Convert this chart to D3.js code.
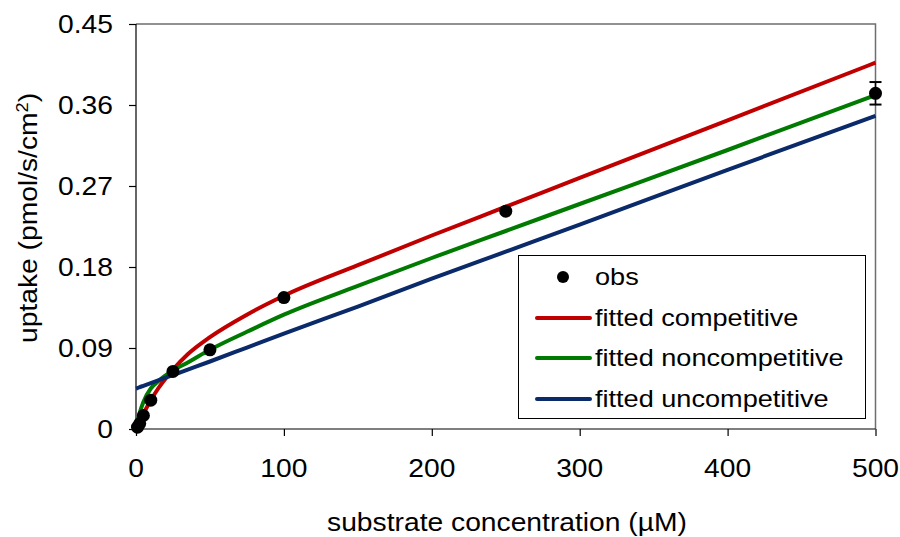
<!DOCTYPE html>
<html>
<head>
<meta charset="utf-8">
<script src="https://cdn.jsdelivr.net/npm/d3@7"></script>
<style>
  html, body { margin: 0; padding: 0; background: #fff; }
  svg { display: block; }
  text { font-family: "Liberation Sans", Arial, sans-serif; fill: #000; }
</style>
</head>
<body>
<svg id="chart" width="900" height="537"></svg>
<script>
// ---- data ----
const obsX = [1, 2.5, 5, 10, 25, 50, 100, 250, 500];
const obsY = [0.002, 0.006, 0.015, 0.032, 0.064, 0.088, 0.146, 0.242, 0.373];
const obsErr = [0, 0, 0, 0, 0, 0, 0, 0, 0.0125];

const fitX = [0, 1, 2.5, 5, 10, 15, 25, 35, 50, 75, 100, 150, 200, 250, 300, 400, 500];
const competitive    = [0, 0.004, 0.009, 0.017, 0.032, 0.045, 0.066, 0.083, 0.102, 0.127, 0.148, 0.182, 0.215, 0.247, 0.279, 0.343, 0.407];
const noncompetitive = [0, 0.009, 0.018, 0.030, 0.045, 0.053, 0.065, 0.074, 0.088, 0.108, 0.127, 0.159, 0.190, 0.220, 0.250, 0.310, 0.371];
const uncompetitive  = [0.045, 0.0455, 0.0465, 0.048, 0.051, 0.054, 0.060, 0.066, 0.075, 0.0905, 0.106, 0.136, 0.167, 0.197, 0.227, 0.288, 0.348];

const xTicks = [0, 100, 200, 300, 400, 500];
const yTicks = [0, 0.09, 0.18, 0.27, 0.36, 0.45];
const yTickLabels = ["0", "0.09", "0.18", "0.27", "0.36", "0.45"];

const seriesNames = ["fitted competitive", "fitted noncompetitive", "fitted uncompetitive"];
const seriesColors = ["#c00000", "#007a00", "#0a2a6a"];
const seriesValues = [competitive, noncompetitive, uncompetitive];

// ---- layout ----
const svg = d3.select("#chart");
const mLeft = 136, mRight = 875.5, mTop = 24, mBottom = 429;
const x = d3.scaleLinear().domain([0, 500]).range([mLeft, mRight]);
const y = d3.scaleLinear().domain([0, 0.45]).range([mBottom, mTop]);
const STRETCH = 1.13;
const FS = 25;

function stretchedText(g, tx, ty, rot, anchor, str, fs) {
  const t = g.append("text")
    .attr("transform", `translate(${tx},${ty}) rotate(${rot}) scale(${STRETCH},1)`)
    .attr("text-anchor", anchor)
    .style("font-size", (fs || FS) + "px");
  return t.text(str);
}

// frame (top & right)
svg.append("path")
  .attr("d", `M${mLeft},${mTop}H${mRight}V${mBottom}`)
  .attr("fill", "none").attr("stroke", "#6e6e6e").attr("stroke-width", 1.5);

// axes
const xAxis = d3.axisBottom(x).tickValues(xTicks).tickSize(7).tickFormat(() => "");
const yAxis = d3.axisLeft(y).tickValues(yTicks).tickSize(7).tickFormat(() => "");
const gx = svg.append("g").attr("transform", `translate(0,${mBottom})`).call(xAxis);
const gy = svg.append("g").attr("transform", `translate(${mLeft},0)`).call(yAxis);
[gx, gy].forEach(g => {
  g.select(".domain").attr("stroke", "#000").attr("stroke-width", 1.2);
  g.selectAll(".tick line").attr("stroke", "#000").attr("stroke-width", 1.2);
});
gx.select(".domain").attr("d", `M${mLeft},0H${mRight}`);
gy.select(".domain").attr("d", `M0,${mBottom}V${mTop}`);

// tick labels
const labels = svg.append("g");
xTicks.forEach(v => stretchedText(labels, x(v), mBottom + 48, 0, "middle", String(v)));
yTicks.forEach((v, i) => stretchedText(labels, mLeft - 23, y(v) + 9, 0, "end", yTickLabels[i]));

// axis titles
stretchedText(svg, 507, 531, 0, "middle", "substrate concentration (\u00b5M)");
const yt = svg.append("text")
  .attr("transform", `translate(37,218) rotate(-90) scale(${STRETCH},1)`)
  .attr("text-anchor", "middle")
  .style("font-size", FS + "px");
yt.append("tspan").text("uptake (pmol/s/cm");
yt.append("tspan").attr("dy", -9).style("font-size", "16px").text("2");
yt.append("tspan").attr("dy", 9).text(")");

// fitted curves
const line = d3.line().x(d => x(d[0])).y(d => y(d[1])).curve(d3.curveMonotoneX);
seriesValues.forEach((vals, i) => {
  svg.append("path")
    .datum(fitX.map((xv, j) => [xv, vals[j]]))
    .attr("d", line)
    .attr("fill", "none")
    .attr("stroke", seriesColors[i])
    .attr("stroke-width", 4)
    .attr("stroke-linejoin", "round");
});

// observations with error bars
const obs = obsX.map((xv, i) => ({ x: xv, y: obsY[i], e: obsErr[i] }));
const eg = svg.append("g");
obs.filter(d => d.e > 0).forEach(d => {
  eg.append("line").attr("x1", x(d.x)).attr("x2", x(d.x))
    .attr("y1", y(d.y - d.e)).attr("y2", y(d.y + d.e))
    .attr("stroke", "#000").attr("stroke-width", 1.5);
  [d.y - d.e, d.y + d.e].forEach(v => {
    eg.append("line").attr("x1", x(d.x) - 6).attr("x2", x(d.x) + 6)
      .attr("y1", y(v)).attr("y2", y(v))
      .attr("stroke", "#000").attr("stroke-width", 2);
  });
});
svg.append("g").selectAll("circle").data(obs).join("circle")
  .attr("cx", d => x(d.x)).attr("cy", d => y(d.y)).attr("r", 6.5).attr("fill", "#000");

// legend
const lg = svg.append("g");
lg.append("rect").attr("x", 518.5).attr("y", 255.5).attr("width", 347).attr("height", 163)
  .attr("fill", "#fff").attr("stroke", "#000").attr("stroke-width", 1);
const rowY = [277, 318, 358, 399];
lg.append("circle").attr("cx", 563).attr("cy", rowY[0]).attr("r", 6).attr("fill", "#000");
stretchedText(lg, 595, rowY[0] + 8, 0, "start", "obs", 24);
seriesNames.forEach((n, i) => {
  lg.append("line").attr("x1", 537).attr("x2", 590)
    .attr("y1", rowY[i + 1]).attr("y2", rowY[i + 1])
    .attr("stroke", seriesColors[i]).attr("stroke-width", 4).attr("stroke-linecap", "round");
  stretchedText(lg, 595, rowY[i + 1] + 8, 0, "start", n, 24);
});
</script>
</body>
</html>
